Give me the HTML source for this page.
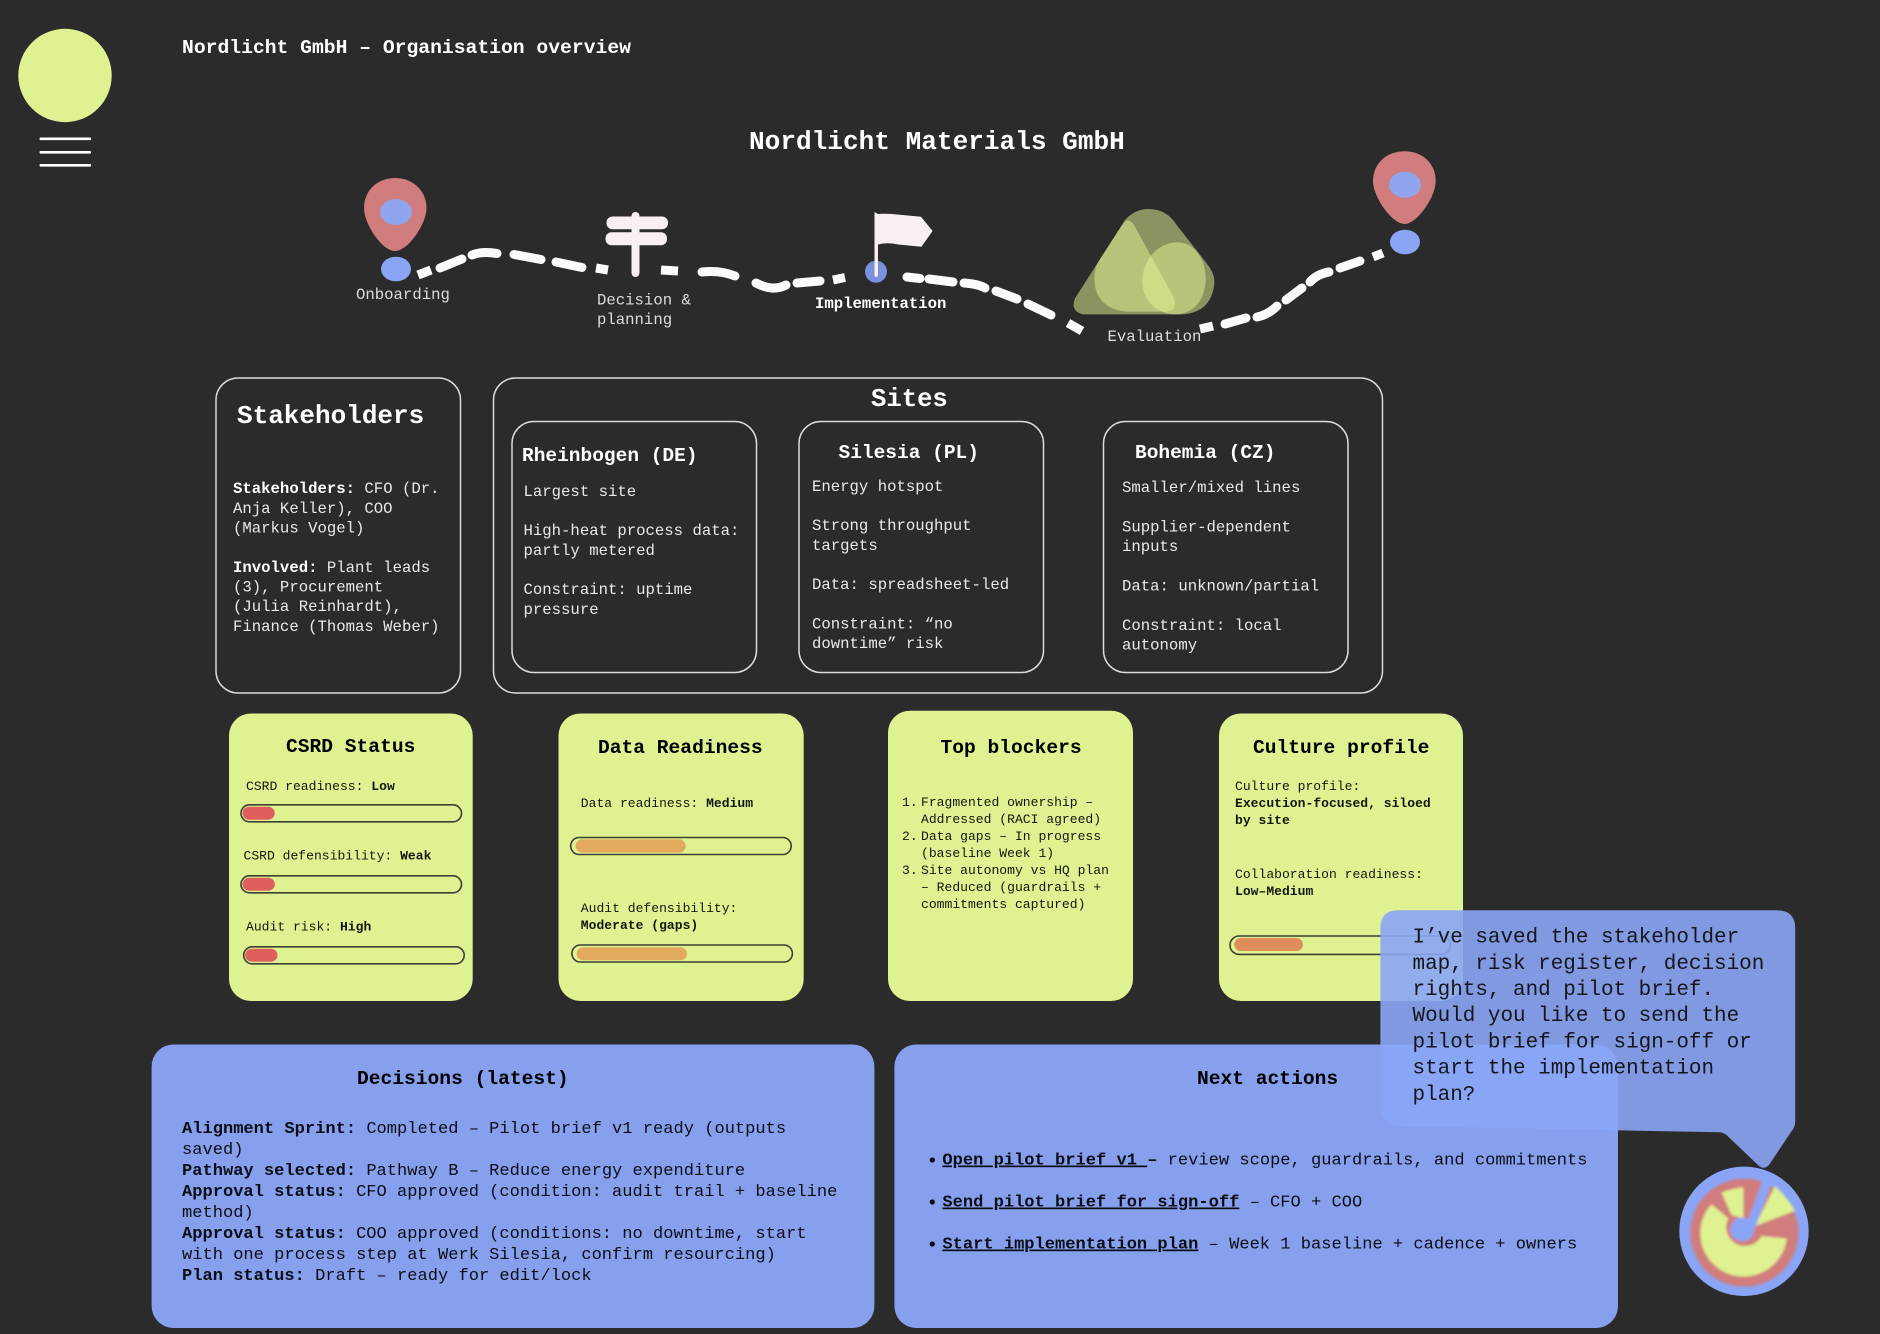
<!DOCTYPE html>
<html lang="en">
<head>
<meta charset="utf-8">
<title>Nordlicht GmbH – Organisation overview</title>
<style>
html,body{margin:0;padding:0;background:#2b2b2b;width:1880px;height:1334px;overflow:hidden}
svg{display:block}
text{font-family:"Liberation Mono","DejaVu Sans Mono",monospace;white-space:pre;transform:translateY(-.8px)}
.w{fill:#e9e9e9;font-size:15.65px}
.wb{fill:#fff;font-weight:700}
.k{fill:#15160f;font-size:13.05px}
.kt{fill:#000;font-size:19.6px;font-weight:700}
.d{fill:#0b0d14;font-size:17.07px}
.dt{fill:#000;font-size:19.6px;font-weight:700}
.b{font-weight:700}
.box{fill:none;stroke:#dcdcdc;stroke-width:1.5}
.card{fill:#def291}
.bl{fill:#86a0ee}
.bar{fill:none;stroke:#3c4035;stroke-width:1.6}
.road{fill:none;stroke:#fbfbfb;stroke-width:9;stroke-linecap:round;stroke-linejoin:round}
.m{fill:#def291;fill-opacity:.53}
</style>
</head>
<body>
<svg xmlns="http://www.w3.org/2000/svg" width="1880" height="1334" viewBox="0 0 1880 1334">
<defs>
<filter id="bl" x="-10%" y="-10%" width="120%" height="120%"><feGaussianBlur stdDeviation="4"/></filter>
<clipPath id="avc"><circle cx="252" cy="243" r="190"/></clipPath>
</defs>
<rect width="1880" height="1334" fill="#2b2b2b"/>

<!-- Header -->
<circle cx="65" cy="75.5" r="46.7" fill="#def291"/>
<rect x="39.5" y="137.5" width="51.5" height="2.6" rx="1" fill="#fff"/>
<rect x="39.5" y="151" width="51.5" height="2.6" rx="1" fill="#fff"/>
<rect x="39.5" y="164" width="51.5" height="2.6" rx="1" fill="#fff"/>
<text x="182" y="54" fill="#fff" font-size="19.7" font-weight="700">Nordlicht GmbH – Organisation overview</text>
<text x="749" y="150" fill="#fff" font-size="26.1" font-weight="700">Nordlicht Materials GmbH</text>

<!-- Road -->
<g class="road">
<path d="M418 275L431 270" stroke-linecap="butt"/>
<path d="M440 268L462 259"/>
<path d="M472 255Q482 251 497 253.5"/>
<path d="M514 254.5L541 259.5"/>
<path d="M556 262L582 267.5"/>
<path d="M596 268L608 270" stroke-linecap="butt"/>
<path d="M661 270L678 271" stroke-linecap="butt"/>
<path d="M702 272Q720 270 735 276"/>
<path d="M756 283Q773 292 786 285"/>
<path d="M797 283L820 281"/>
<path d="M833 280L845 277.5" stroke-linecap="butt"/>
<path d="M907 277L920 278.5"/>
<path d="M929 279L953 282"/>
<path d="M964 283Q978 284 985 288"/>
<path d="M996 291L1017 299"/>
<path d="M1028 304L1051 315"/>
<path d="M1068 323L1082 331" stroke-linecap="butt"/>
<path d="M1200 329L1213 326" stroke-linecap="butt"/>
<path d="M1225 324L1246 318"/>
<path d="M1257 317Q1268 315 1277 306"/>
<path d="M1286 300L1302 288"/>
<path d="M1310 282Q1317 274 1329 272"/>
<path d="M1340 268L1360 261"/>
<path d="M1373 257L1383 253" stroke-linecap="butt"/>
</g>

<!-- Left pin -->
<path d="M395 178C413 178 426.5 191 426.5 208C426.5 224 408 251 395 251C382 251 364 224 364 208C364 191 377 178 395 178Z" fill="#d27d7d"/>
<ellipse cx="396" cy="212" rx="16" ry="13" fill="#8fa5ee"/>
<ellipse cx="396" cy="269" rx="15" ry="12.3" fill="#8aa5f5"/>
<text x="356" y="300" class="w" style="fill:#dcdcdc">Onboarding</text>

<!-- Signpost -->
<rect x="631.5" y="212" width="8" height="65" rx="4" fill="#f8f0f0"/>
<rect x="606.5" y="216.5" width="61.5" height="12.7" rx="6" fill="#f8f0f0"/>
<rect x="605.5" y="232.2" width="61.5" height="13" rx="6" fill="#f8f0f0"/>
<text x="597" y="305.3" class="w" style="fill:#dcdcdc">Decision &amp;</text>
<text x="597" y="325" class="w" style="fill:#dcdcdc">planning</text>

<!-- Flag -->
<ellipse cx="876" cy="271.7" rx="11" ry="11" fill="#7890de"/>
<path d="M874.5 212L878 214Q882 213.5 892 214L921 216.7L932.6 231L921.4 246.7L898 244.5Q886 242 878 244.5V276Q876 278 874.5 276Z" fill="#f8f0f0"/>
<text x="815" y="309" class="wb" font-size="15.65">Implementation</text>

<!-- Mountains -->
<g transform="translate(1060,195) scale(.33333)">
<path class="m" d="M195 75Q225 42 265 42Q320 42 350 90L440 205Q465 235 463 265Q455 350 370 358L70 358Q30 350 45 310Z"/>
<path class="m" d="M190 85Q205 65 222 90L340 305Q355 345 320 350L200 350Q105 340 103 250Q103 215 125 185Z"/>
<path class="m" d="M352 142C405 142 437 195 437 250C437 315 400 358 345 358C290 358 247 315 247 258C247 195 295 142 352 142Z"/>
</g>
<text x="1107.5" y="342" class="w" style="fill:#dcdcdc">Evaluation</text>

<!-- Right pin -->
<path d="M1404.5 151.3C1423 151.3 1435.7 164 1435.7 181C1435.7 197 1417 224 1404.5 224C1392 224 1373 197 1373 181C1373 164 1386 151.3 1404.5 151.3Z" fill="#d27d7d"/>
<ellipse cx="1405" cy="184.7" rx="16" ry="13" fill="#8fa5ee"/>
<ellipse cx="1405" cy="242" rx="15" ry="12.3" fill="#8aa5f5"/>

<!-- Stakeholders -->
<rect class="box" x="216" y="378" width="244.5" height="315" rx="22"/>
<text x="237" y="424" class="wb" font-size="26">Stakeholders</text>
<text x="233" y="494" class="w"><tspan class="wb">Stakeholders:</tspan> CFO (Dr.</text>
<text x="233" y="513.7" class="w">Anja Keller), COO</text>
<text x="233" y="533.3" class="w">(Markus Vogel)</text>
<text x="233" y="572.7" class="w"><tspan class="wb">Involved:</tspan> Plant leads</text>
<text x="233" y="592.3" class="w">(3), Procurement</text>
<text x="233" y="612" class="w">(Julia Reinhardt),</text>
<text x="233" y="631.7" class="w">Finance (Thomas Weber)</text>

<!-- Sites -->
<rect class="box" x="493.5" y="378" width="889" height="315" rx="22"/>
<text x="871" y="406.7" class="wb" font-size="25.6">Sites</text>

<rect class="box" x="512" y="421.5" width="244.5" height="251" rx="22"/>
<text x="522" y="461.7" class="wb" font-size="19.5">Rheinbogen (DE)</text>
<text x="523.5" y="496.7" class="w">Largest site</text>
<text x="523.5" y="536" class="w">High-heat process data:</text>
<text x="523.5" y="555.7" class="w">partly metered</text>
<text x="523.5" y="595" class="w">Constraint: uptime</text>
<text x="523.5" y="614.7" class="w">pressure</text>

<rect class="box" x="799" y="421.5" width="244.5" height="251" rx="22"/>
<text x="838.5" y="458.7" class="wb" font-size="19.5">Silesia (PL)</text>
<text x="812" y="491.7" class="w">Energy hotspot</text>
<text x="812" y="531" class="w">Strong throughput</text>
<text x="812" y="550.7" class="w">targets</text>
<text x="812" y="590" class="w">Data: spreadsheet-led</text>
<text x="812" y="629.3" class="w">Constraint: “no</text>
<text x="812" y="649" class="w">downtime” risk</text>

<rect class="box" x="1103.5" y="421.5" width="244.5" height="251" rx="22"/>
<text x="1135" y="458.7" class="wb" font-size="19.5">Bohemia (CZ)</text>
<text x="1122" y="493" class="w">Smaller/mixed lines</text>
<text x="1122" y="532.3" class="w">Supplier-dependent</text>
<text x="1122" y="552" class="w">inputs</text>
<text x="1122" y="591.3" class="w">Data: unknown/partial</text>
<text x="1122" y="630.7" class="w">Constraint: local</text>
<text x="1122" y="650.3" class="w">autonomy</text>

<!-- CSRD -->
<rect class="card" x="229" y="713.5" width="243.7" height="287.5" rx="22"/>
<text x="286" y="752.7" class="kt">CSRD Status</text>
<text x="246" y="790.7" class="k">CSRD readiness: <tspan class="b">Low</tspan></text>
<rect class="bar" x="241" y="804.8" width="220.5" height="17" rx="8.5"/>
<rect x="242.5" y="806.7" width="32.3" height="13" rx="6.5" fill="#df5f5b"/>
<text x="243.5" y="860.3" class="k">CSRD defensibility: <tspan class="b">Weak</tspan></text>
<rect class="bar" x="241" y="875.8" width="220.5" height="17" rx="8.5"/>
<rect x="242.5" y="877.7" width="32.3" height="13" rx="6.5" fill="#df5f5b"/>
<text x="246" y="931.3" class="k">Audit risk: <tspan class="b">High</tspan></text>
<rect class="bar" x="243.7" y="946.8" width="220.5" height="17" rx="8.5"/>
<rect x="245.2" y="948.7" width="32.3" height="13" rx="6.5" fill="#df5f5b"/>

<!-- Data Readiness -->
<rect class="card" x="558.5" y="713.5" width="245.2" height="287.5" rx="22"/>
<text x="598" y="754" class="kt">Data Readiness</text>
<text x="580.8" y="807.7" class="k">Data readiness: <tspan class="b">Medium</tspan></text>
<rect class="bar" x="570.7" y="837.5" width="220.5" height="17" rx="8.5"/>
<rect x="575.5" y="839.4" width="110.2" height="13.2" rx="6.6" fill="#e3a95c"/>
<text x="580.8" y="912.7" class="k">Audit defensibility:</text>
<text x="580.8" y="930" class="k b">Moderate (gaps)</text>
<rect class="bar" x="571.9" y="945" width="220.5" height="17" rx="8.5"/>
<rect x="576.7" y="947.3" width="110.3" height="13" rx="6.5" fill="#e3a95c"/>

<!-- Top blockers -->
<rect class="card" x="888" y="710.7" width="245" height="290.3" rx="22"/>
<text x="940.5" y="754" class="kt">Top blockers</text>
<text x="902" y="806.7" class="k">1.</text>
<text x="921" y="806.7" class="k">Fragmented ownership –</text>
<text x="921" y="823.7" class="k">Addressed (RACI agreed)</text>
<text x="902" y="841" class="k">2.</text>
<text x="921" y="841" class="k">Data gaps – In progress</text>
<text x="921" y="857.7" class="k">(baseline Week 1)</text>
<text x="902" y="875" class="k">3.</text>
<text x="921" y="875" class="k">Site autonomy vs HQ plan</text>
<text x="921" y="892" class="k">– Reduced (guardrails +</text>
<text x="921" y="909" class="k">commitments captured)</text>

<!-- Culture -->
<rect class="card" x="1219" y="713.5" width="244" height="287.5" rx="22"/>
<text x="1253" y="754" class="kt">Culture profile</text>
<text x="1235" y="790.7" class="k">Culture profile:</text>
<text x="1235" y="807.7" class="k b">Execution-focused, siloed</text>
<text x="1235" y="825" class="k b">by site</text>
<text x="1235" y="878.7" class="k">Collaboration readiness:</text>
<text x="1235" y="895.7" class="k b">Low–Medium</text>
<rect class="bar" x="1230" y="936" width="220.5" height="18.4" rx="9.2"/>
<rect x="1234.3" y="938" width="68.6" height="13" rx="6.5" fill="#e08d5c"/>

<!-- Decisions -->
<rect class="bl" x="151.6" y="1044.5" width="722.8" height="283.5" rx="22"/>
<text x="357" y="1084.7" class="dt">Decisions (latest)</text>
<text x="182" y="1134" class="d"><tspan class="b">Alignment Sprint:</tspan> Completed – Pilot brief v1 ready (outputs</text>
<text x="182" y="1155" class="d">saved)</text>
<text x="182" y="1176" class="d"><tspan class="b">Pathway selected:</tspan> Pathway B – Reduce energy expenditure</text>
<text x="182" y="1197" class="d"><tspan class="b">Approval status:</tspan> CFO approved (condition: audit trail + baseline</text>
<text x="182" y="1218" class="d">method)</text>
<text x="182" y="1239" class="d"><tspan class="b">Approval status:</tspan> COO approved (conditions: no downtime, start</text>
<text x="182" y="1260" class="d">with one process step at Werk Silesia, confirm resourcing)</text>
<text x="182" y="1281" class="d"><tspan class="b">Plan status:</tspan> Draft – ready for edit/lock</text>

<!-- Next actions -->
<rect class="bl" x="894.4" y="1044.5" width="723.6" height="283.5" rx="22"/>
<text x="1197" y="1084.7" class="dt">Next actions</text>
<circle cx="932.3" cy="1160" r="2.6" fill="#0b0d14"/>
<circle cx="932.3" cy="1202" r="2.6" fill="#0b0d14"/>
<circle cx="932.3" cy="1244" r="2.6" fill="#0b0d14"/>
<text x="942.4" y="1165.3" class="d"><tspan class="b" text-decoration="underline">Open pilot brief v1 </tspan><tspan class="b">–</tspan> review scope, guardrails, and commitments</text>
<text x="942.4" y="1207.3" class="d"><tspan class="b" text-decoration="underline">Send pilot brief for sign-off</tspan> – CFO + COO</text>
<text x="942.4" y="1249.3" class="d"><tspan class="b" text-decoration="underline">Start implementation plan</tspan> – Week 1 baseline + cadence + owners</text>

<!-- Avatar -->
<circle cx="1744" cy="1231.3" r="64.7" fill="#8aa5f5"/>
<g transform="translate(1660,1150) scale(.33333)">
<g clip-path="url(#avc)">
<g filter="url(#bl)">
<circle cx="253" cy="248" r="162" fill="#d27d7d"/>
<path d="M380 266A130 130 0 1 1 154 163L205 205A55 55 0 1 0 305 258Z" fill="#def291"/>
<path d="M285 228L345 108Q385 145 405 182Z" fill="#def291"/>
<path d="M185 128Q215 115 250 112L250 205L215 195Z" fill="#def291"/>
<path d="M255 235L310 85L335 100L285 235Z" fill="#8aa5f5"/>
<circle cx="247" cy="238" r="36" fill="#8aa5f5"/>
</g>
</g>
</g>

<!-- Bubble -->
<path d="M1398 910.3H1777Q1795.2 910.3 1795.2 928V1122Q1795.2 1127 1791 1132L1769 1165Q1764 1170 1759 1166L1728.6 1137Q1725 1133 1720 1132.3L1398 1126Q1380.4 1125 1380.4 1108V928Q1380.4 910.3 1398 910.3Z" fill="#8aa5f5" fill-opacity=".9"/>
<g fill="#14161c" font-size="20.95">
<text x="1412.5" y="943.3">I’ve saved the stakeholder</text>
<text x="1412.5" y="969.7">map, risk register, decision</text>
<text x="1412.5" y="995.7">rights, and pilot brief.</text>
<text x="1412.5" y="1022">Would you like to send the</text>
<text x="1412.5" y="1048.3">pilot brief for sign-off or</text>
<text x="1412.5" y="1074.3">start the implementation</text>
<text x="1412.5" y="1100.7">plan?</text>
</g>
</svg>
</body>
</html>
